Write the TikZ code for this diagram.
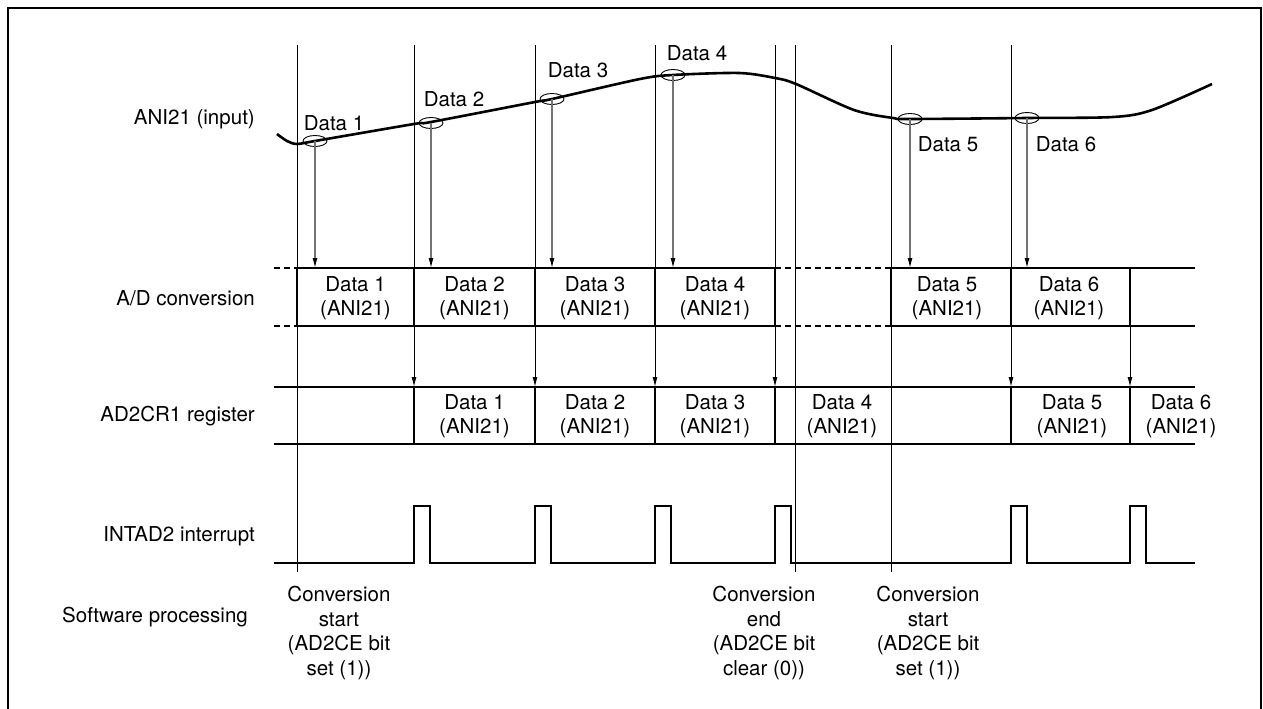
\documentclass[tikz,border=0pt]{standalone}
\usepackage{fontspec}
\setmainfont{TeX Gyre Heros}
\usetikzlibrary{arrows.meta,shapes.geometric}
\begin{document}
\begin{tikzpicture}[x=1pt,y=-1pt,
  thinline/.style={line width=1pt},
  thickline/.style={line width=2.6pt},
  vbar/.style={line width=2.6pt, line cap=rect},
  dashline/.style={line width=2.6pt, dash pattern=on 6pt off 4pt},
  lbl/.style={font=\fontsize{20.5}{24.5}\selectfont, inner sep=0pt, align=center},
  arr/.style={-{Latex[length=10pt,width=5pt,color=black]}},
  sampline/.style={line width=1.1pt, draw=black!55},
  samp/.style={draw, ellipse, line width=0.9pt, minimum width=24pt, minimum height=11pt, inner sep=0pt},
]
\useasboundingbox (0,0) rectangle (1263,709);
% frame
\draw[line width=2.8pt] (8,712) -- (8,8) -- (1261,8) -- (1261,712);

% event lines
\foreach \x in {297,795,891} \draw[thinline] (\x,45) -- (\x,572);
\foreach \x in {414,535,655,775,1011} \draw[thinline,arr] (\x,45) -- (\x,387);
\draw[thinline,arr] (1130,326) -- (1130,387);

% input waveform
\draw[line width=2.6pt, line join=round] plot[smooth, tension=0.5] coordinates {
 (277,134) (287,141) (297,144) (315,141) (414,124) (431,122) (535,102) (552,99)
 (640,79) (673,75) (739,73) (775,78) (796,84) (854,110) (893,118) (910,119)
 (1027,118) (1113,117) (1152,110) (1212,84)};

% sample points
\node[samp] (s1) at (315,141) {};
\node[samp] (s2) at (431,123) {};
\node[samp] (s3) at (552,99) {};
\node[samp] (s4) at (673,75) {};
\node[samp] (s5) at (910,119) {};
\node[samp] (s6) at (1027,118) {};
\foreach \i/\x in {1/315,2/431,3/552,4/673,5/910,6/1027}
  \draw[sampline,arr] (s\i.center) -- (\x,268);

\node[lbl] (t1) at (334,123) {Data 1};
\node[lbl] (t2) at (454,99) {Data 2};
\node[lbl] (t3) at (578,70) {Data 3};
\node[lbl] (t4) at (697,53) {Data 4};
\node[lbl] (t5) at (948,144) {Data 5};
\node[lbl] (t6) at (1066,144) {Data 6};

% A/D conversion row
\draw[dashline] (274,268) -- (297,268);
\draw[dashline] (274,326) -- (297,326);
\draw[thickline] (297,268) -- (775,268);
\draw[thickline] (297,326) -- (775,326);
\draw[dashline] (775,268) -- (891,268);
\draw[dashline] (775,326) -- (891,326);
\draw[thickline] (891,268) -- (1195,268);
\draw[thickline] (891,326) -- (1195,326);
\foreach \x in {297,414,535,655,775,891,1011,1130} \draw[vbar] (\x,268) -- (\x,326);
\node[lbl] (a1) at (355.5,298) {Data 1\\(ANI21)};
\node[lbl] (a2) at (474.5,298) {Data 2\\(ANI21)};
\node[lbl] (a3) at (595,298) {Data 3\\(ANI21)};
\node[lbl] (a4) at (715,298) {Data 4\\(ANI21)};
\node[lbl] (a5) at (947,298) {Data 5\\(ANI21)};
\node[lbl] (a6) at (1069,298) {Data 6\\(ANI21)};

% AD2CR1 register row
\draw[thickline] (274,387) -- (1195,387);
\draw[thickline] (274,444) -- (1195,444);
\foreach \x in {414,535,655,775,1011,1130} \draw[vbar] (\x,387) -- (\x,444);
\node[lbl] (r1) at (474.5,416) {Data 1\\(ANI21)};
\node[lbl] (r2) at (595,416) {Data 2\\(ANI21)};
\node[lbl] (r3) at (715,416) {Data 3\\(ANI21)};
\node[lbl] (r4) at (842,416) {Data 4\\(ANI21)};
\node[lbl] (r5) at (1072,416) {Data 5\\(ANI21)};
\node[lbl] (r6) at (1181,416) {Data 6\\(ANI21)};

% INTAD2 interrupt
\draw[thickline, line join=miter] (274,563)
  -- (414,563) -- (414,506) -- (430,506) -- (430,563)
  -- (535,563) -- (535,506) -- (551,506) -- (551,563)
  -- (655,563) -- (655,506) -- (671,506) -- (671,563)
  -- (775,563) -- (775,506) -- (791,506) -- (791,563)
  -- (1011,563) -- (1011,506) -- (1027,506) -- (1027,563)
  -- (1130,563) -- (1130,506) -- (1146,506) -- (1146,563)
  -- (1195,563);

% left labels
\node[lbl, anchor=east] (l1) at (255,119) {ANI21 (input)};
\node[lbl, anchor=east] (l2) at (255,298) {A/D conversion};
\node[lbl, anchor=east] (l3) at (255,416) {AD2CR1 register};
\node[lbl, anchor=east] (l4) at (255,536) {INTAD2 interrupt};
\node[lbl, anchor=east] (l5) at (248,617) {Software processing};

% software processing
\node[lbl] (p1) at (339,633) {Conversion\\start\\(AD2CE bit\\set (1))};
\node[lbl] (p2) at (764,633) {Conversion\\end\\(AD2CE bit\\clear (0))};
\node[lbl] (p3) at (928,633) {Conversion\\start\\(AD2CE bit\\set (1))};
\end{tikzpicture}
\end{document}
